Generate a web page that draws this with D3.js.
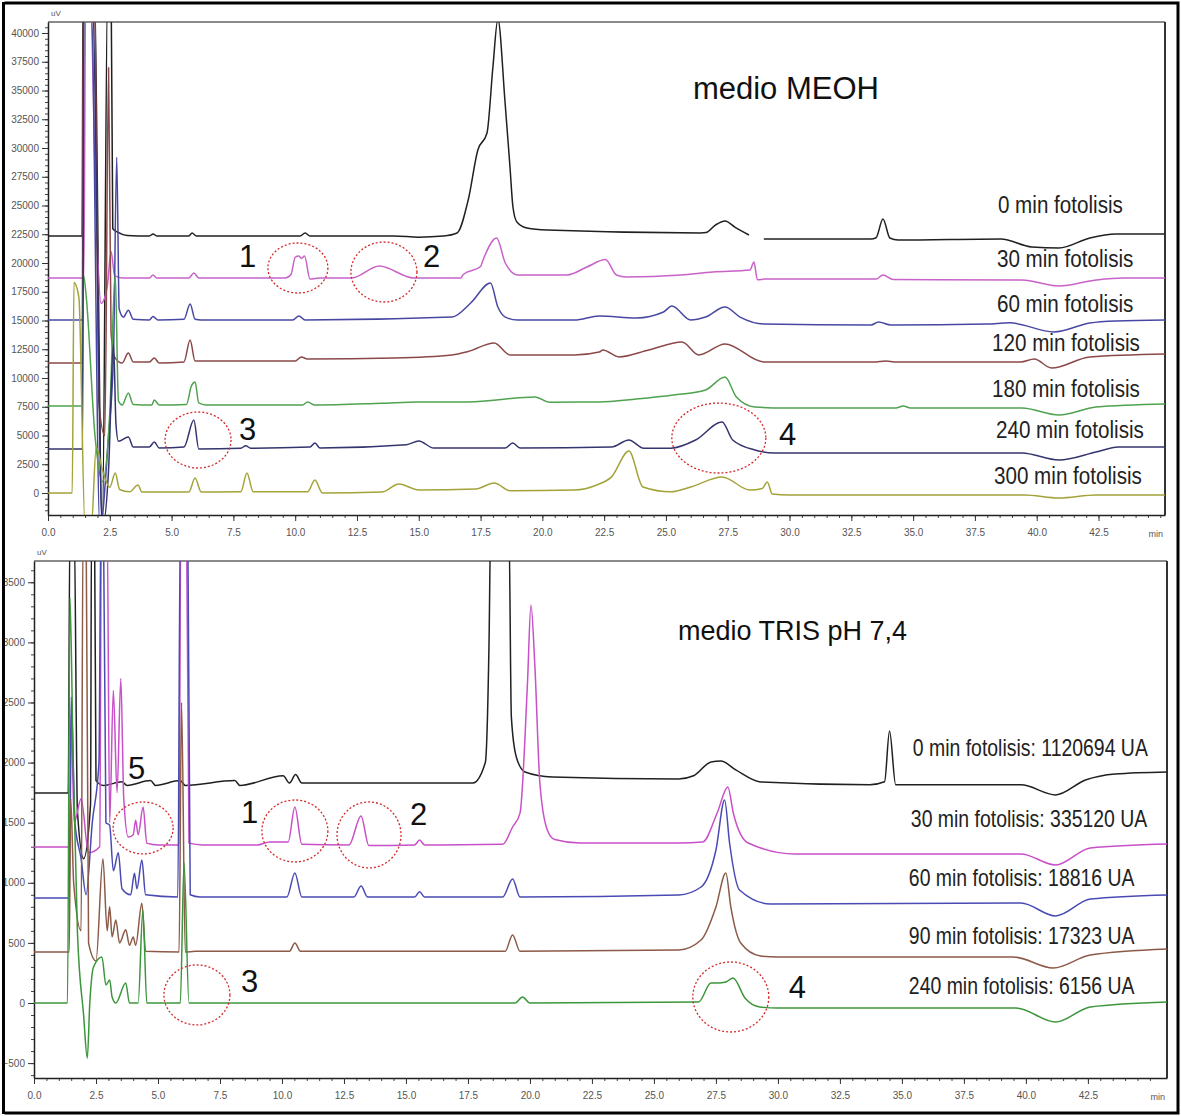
<!DOCTYPE html>
<html>
<head>
<meta charset="utf-8">
<script src="https://cdn.jsdelivr.net/npm/d3@7"></script>
<style>
  body { margin: 0; background: #fff; }
  svg text { font-family: "Liberation Sans", Arial, sans-serif; }
</style>
</head>
<body>
<svg id="chart" width="1181" height="1116"></svg>
<script>
// Chromatograms of the photolysis runs, MEOH medium (top) and TRIS pH 7,4 (bottom).
// Every trace is a list of [time (min), signal (uV)].
// null marks a break in the recorded line.

var timeTicks = d3.range(0, 42.51, 2.5);
var timeMinor = d3.range(0, 45.01, 0.5);

// ---------- medio MEOH ----------
var meohTicks = d3.range(0, 40001, 2500);
var meohMinor = d3.range(-1500, 40501, 500);
var meohLabels = ["0 min fotolisis", "30 min fotolisis", "60 min fotolisis", "120 min fotolisis",
                  "180 min fotolisis", "240 min fotolisis", "300 min fotolisis"];

var meoh0 = [[0,22350],[1.38,22350],[1.42,45000],[1.85,45000],[2.2,-3000],[2.42,45000],[2.55,45000],
  [2.62,23000],[2.8,22700],[3.2,22400],[4.1,22350],[4.25,22520],[4.4,22350],[5.7,22350],[5.83,22600],
  [6.0,22350],[10.2,22350],[10.4,22600],[10.6,22350],[14.0,22350],[15.0,22250],[16.0,22350],[16.55,22610],
  [17.0,25480],[17.39,29830],[17.76,31300],[18.0,37045],[18.2,41200],[18.49,34000],[18.69,28350],
  [18.81,24870],[18.97,23570],[19.38,23045],[20.19,22870],[26.4,22610],[26.62,22650],[27.0,23300],
  [27.39,23650],[27.8,23100],[28.36,22436],[28.5,null],[28.96,22090],[33.29,22090],[33.5,22200],
  [33.78,23830],[34.06,22175],[34.39,22000],[38.55,22090],[39.8,21390],[40.9,21305],[42.15,22175],
  [43.2,22520],[45.2,22520]];
var meoh30 = [[0,18700],[1.45,18700],[1.52,42000],[1.72,42000],[1.95,24000],[2.15,16500],[2.4,18000],
  [2.55,21000],[2.7,18900],[3.0,18700],[4.1,18700],[4.25,18950],[4.4,18700],[5.7,18700],[5.9,19130],
  [6.1,18700],[9.6,18700],[9.83,19000],[10.0,20500],[10.15,20610],[10.25,20400],[10.38,20610],
  [10.6,18600],[11.0,18700],[12.3,18700],[13.4,19740],[14.8,18700],[16.7,18700],[16.8,19000],
  [17.5,19700],[17.6,20262],[18.15,22175],[18.5,20001],[19.0,18960],[21.0,18960],[21.8,19650],
  [22.55,20300],[23.0,18960],[23.4,18783],[25.6,18960],[26.9,19220],[28.4,19390],[28.56,20088],
  [28.7,18550],[29.0,18600],[33.5,18600],[33.78,18957],[34.2,18560],[39.4,18522],[40.9,18001],
  [42.4,18522],[43.5,18700],[45.2,18700]];
var meoh60 = [[0,15040],[1.4,15040],[1.45,42000],[1.75,42000],[2.1,-3000],[2.45,5000],[2.65,12000],
  [2.78,29200],[2.88,16000],[3.05,15300],[3.25,15900],[3.45,15100],[4.1,15050],[4.25,15350],[4.45,15040],
  [5.5,15100],[5.75,16435],[5.95,15100],[6.2,15040],[9.9,15040],[10.15,15390],[10.4,15040],[16.35,15300],
  [17.1,16520],[17.9,18260],[18.2,16175],[18.5,15300],[19.0,15040],[21.3,15040],[22.3,15400],
  [23.8,15220],[24.9,15740],[25.24,16260],[26.0,15040],[26.6,15300],[27.39,16175],[28.0,15300],
  [28.96,14700],[33.3,14609],[33.6,14870],[34.1,14609],[38.0,14700],[38.9,14800],[40.7,14000],
  [42.15,14783],[43.2,14957],[45.2,15040]];
var meoh120 = [[0,11300],[1.38,11300],[1.43,42000],[1.9,42000],[2.05,8000],[2.3,5000],[2.45,37000],
  [2.55,14000],[2.7,11800],[3.0,11300],[3.25,12170],[3.45,11400],[4.1,11400],[4.3,11740],[4.5,11300],
  [5.5,11400],[5.75,13300],[5.95,11480],[6.3,11480],[10.0,11480],[10.25,11830],[10.5,11650],[14.0,11740],
  [16.35,12000],[17.0,12300],[18.05,13040],[18.7,12000],[21.3,12000],[22.3,12260],[22.45,12435],
  [23.1,11830],[24.3,12435],[25.65,13130],[26.33,12000],[27.39,12960],[28.96,11390],[33.4,11390],
  [33.9,11480],[34.3,11390],[39.35,11390],[39.9,11650],[40.6,10870],[42.15,11830],[45.2,12088]];
var meoh180 = [[0,7565],[1.38,7565],[1.43,19000],[1.55,17000],[1.9,5000],[2.2,1000],[2.5,7000],
  [2.72,19000],[2.85,8000],[3.0,7650],[3.25,8700],[3.45,7700],[4.2,7650],[4.3,8090],[4.5,7650],[5.6,7700],
  [5.8,9300],[5.95,9650],[6.1,7830],[6.4,7650],[10.3,7650],[10.5,7910],[10.8,7650],[13.5,7800],
  [15.0,7910],[17.0,7914],[19.7,8350],[20.3,7900],[22.3,7914],[23.8,8174],[25.3,8522],[26.6,8957],
  [27.39,10087],[27.85,8348],[28.6,7479],[29.8,7392],[34.3,7392],[34.6,7560],[34.9,7392],[39.4,7392],
  [40.9,6783],[42.4,7479],[45.2,7740]];
var meoh240 = [[0,3830],[1.4,3830],[1.45,42000],[1.8,42000],[2.2,-3000],[2.45,2000],[2.65,13000],
  [2.75,6000],[2.85,4500],[3.25,4870],[3.45,4000],[4.1,4000],[4.3,4435],[4.5,3913],[5.5,4000],[5.9,6348],
  [6.1,3830],[7.8,3900],[8.0,4100],[8.2,3900],[10.6,4000],[10.8,4350],[11.0,3913],[14.5,4200],[15.0,4522],
  [15.6,3913],[18.5,3913],[18.8,4348],[19.1,3913],[22.8,4000],[23.5,4609],[24.1,3900],[25.2,3900],
  [26.2,4609],[27.27,6174],[27.7,4609],[28.6,3739],[29.4,3478],[39.4,3478],[40.9,2870],[42.4,3565],
  [43.3,4000],[45.2,4000]];
var meoh300 = [[0,0],[0.98,0],[1.05,18300],[1.25,17000],[1.5,-3000],[1.75,-3000],[1.95,4000],[2.2,2000],
  [2.5,500],[2.72,1740],[2.9,300],[3.3,100],[3.64,700],[3.8,80],[5.7,80],[5.95,1300],[6.2,80],[7.8,100],
  [8.05,1740],[8.3,100],[10.5,100],[10.8,1130],[11.1,0],[13.5,80],[14.2,780],[15.0,260],[17.3,350],
  [18.05,870],[18.7,200],[21.3,260],[22.2,700],[22.8,1400],[23.5,3650],[24.07,520],[25.2,100],[26.0,520],
  [27.27,1390],[28.4,261],[28.9,400],[29.1,960],[29.3,-87],[30.0,-174],[39.5,-174],[40.9,-435],
  [42.4,-174],[45.2,-174]];

// ---------- medio TRIS pH 7,4 ----------
var trisTicks = d3.range(-500, 3501, 500);
var trisMinor = d3.range(-600, 3601, 100);
var trisLabels = ["0 min fotolisis: 1120694 UA", "30 min fotolisis: 335120 UA", "60 min fotolisis: 18816 UA",
                  "90 min fotolisis: 17323 UA", "240 min fotolisis: 6156 UA"];

var tris0 = [[0,1747],[1.38,1747],[1.45,4000],[1.62,4000],[1.75,1600],[2.0,1200],[2.28,1650],[2.32,4000],
  [2.44,4000],[2.5,1850],[2.8,1810],[3.55,1840],[3.75,1810],[4.7,1850],[4.9,1810],[5.9,1850],[6.1,1810],
  [8.1,1850],[8.3,1810],[10.05,1890],[10.3,1830],[10.55,1900],[10.8,1830],[17.7,1830],[18.2,2000],
  [18.35,3000],[18.42,4000],[19.15,4000],[19.25,2380],[19.45,2047],[19.8,1922],[20.9,1880],[26.0,1864],
  [26.6,1890],[27.3,2005],[27.7,2013],[28.3,1939],[29.3,1839],[33.7,1815],[34.3,1840],[34.5,2263],
  [34.75,1815],[39.8,1815],[41.2,1731],[42.4,1855],[43.6,1905],[45.7,1922]];
var tris30 = [[0,1298],[1.45,1298],[1.5,2400],[1.62,1500],[1.9,1700],[2.2,1250],[2.65,1300],[2.72,4000],
  [2.95,4000],[3.05,1500],[3.2,2600],[3.35,1750],[3.5,2700],[3.62,1700],[3.8,1380],[4.0,1400],[4.1,1520],
  [4.2,1400],[4.4,1630],[4.55,1330],[5.0,1315],[5.85,1315],[5.92,4000],[6.15,4000],[6.25,1330],
  [6.8,1315],[9.0,1315],[9.5,1340],[10.25,1340],[10.52,1630],[10.8,1320],[12.7,1315],[13.19,1556],
  [13.5,1310],[15.35,1315],[15.55,1356],[15.75,1315],[18.9,1320],[19.3,1464],[19.6,1580],[19.9,2662],
  [20.04,3311],[20.2,2796],[20.4,1830],[20.7,1440],[21.0,1360],[22.0,1331],[26.0,1331],[26.97,1340],
  [27.55,1581],[27.98,1797],[28.2,1581],[28.8,1331],[30.7,1240],[39.8,1240],[41.2,1148],[42.6,1290],
  [45.7,1323]];
var tris60 = [[0,874],[1.42,874],[1.5,2546],[1.65,1500],[1.9,1200],[2.1,900],[2.35,1500],[2.62,2000],
  [2.7,4000],[2.8,4000],[2.9,1500],[3.05,1480],[3.2,1100],[3.4,1250],[3.55,950],[3.9,900],[4.05,1080],
  [4.15,950],[4.35,1190],[4.5,900],[5.8,882],[5.9,4000],[6.2,4000],[6.3,900],[6.7,882],[10.2,882],
  [10.52,1082],[10.8,882],[12.9,882],[13.19,973],[13.45,882],[15.35,882],[15.55,925],[15.75,882],
  [18.9,882],[19.3,1032],[19.6,882],[26.0,899],[26.9,965],[27.5,1273],[27.85,1689],[28.05,1331],
  [28.45,940],[29.7,824],[39.8,832],[41.2,724],[42.6,865],[45.7,899]];
var tris90 = [[0,424],[1.42,424],[1.48,1700],[1.6,1000],[1.9,600],[1.98,4000],[2.1,4000],[2.2,500],
  [2.5,350],[2.78,1200],[2.95,600],[3.05,800],[3.15,550],[3.3,690],[3.45,500],[3.7,610],[3.85,480],
  [4.0,550],[4.1,480],[4.35,830],[4.5,430],[5.85,424],[5.95,2500],[6.1,424],[6.5,430],[10.3,430],
  [10.52,500],[10.75,430],[19.0,430],[19.3,566],[19.6,430],[26.0,441],[26.9,524],[27.5,799],[27.9,1082],
  [28.1,799],[28.5,499],[29.3,391],[30.0,383],[39.5,383],[41.1,291],[42.6,399],[45.7,449]];
var tris240 = [[0,0],[1.35,0],[1.45,3370],[1.58,2000],[1.75,600],[2.0,-100],[2.15,-458],[2.25,0],
  [2.4,300],[2.74,383],[2.9,150],[3.05,191],[3.15,50],[3.3,0],[3.7,166],[3.85,0],[4.2,0],[4.39,774],
  [4.55,0],[5.9,0],[6.05,1165],[6.25,0],[19.4,0],[19.7,50],[20.0,0],[26.8,8],[27.3,166],[27.58,166],
  [27.9,175],[28.19,208],[28.67,42],[29.27,-33],[30.0,-42],[39.6,-42],[41.2,-158],[42.6,-33],[45.7,8]];

var svg = d3.select("#chart");

// outer frame of the composite picture
svg.append("rect").attr("x", 3).attr("y", 3).attr("width", 1175).attr("height", 1110)
  .attr("fill", "none").attr("stroke", "#000").attr("stroke-width", 3);

function drawPanel(p) {
  var g = svg.append("g");
  var x = d3.scaleLinear().domain(p.xDomain).range([p.left, p.right]);
  var y = d3.scaleLinear().domain(p.yDomain).range([p.bottom, p.top]);

  // clip the traces to the plot area
  g.append("clipPath").attr("id", p.id + "-plot")
    .append("rect").attr("x", p.left).attr("y", p.top)
    .attr("width", p.right - p.left).attr("height", p.bottom - p.top);

  // frame: gray top line, dark right line
  g.append("line").attr("x1", p.left).attr("x2", p.right).attr("y1", p.top).attr("y2", p.top)
    .attr("stroke", "#8a8a8a").attr("stroke-width", 2);
  g.append("line").attr("x1", p.right).attr("x2", p.right).attr("y1", p.top).attr("y2", p.bottom)
    .attr("stroke", "#333").attr("stroke-width", 2);

  // minor ticks
  g.append("g").attr("transform", "translate(0," + p.bottom + ")")
    .call(d3.axisBottom(x).tickValues(timeMinor.filter(function (d) { return x(d) <= p.right; }))
      .tickSize(3).tickSizeOuter(0).tickFormat(""))
    .call(function (a) { a.select(".domain").remove(); a.selectAll("line").attr("stroke", "#444"); });
  g.append("g").attr("transform", "translate(" + p.left + ",0)")
    .call(d3.axisLeft(y).tickValues(p.yMinor).tickSize(3).tickSizeOuter(0).tickFormat(""))
    .call(function (a) { a.select(".domain").remove(); a.selectAll("line").attr("stroke", "#444"); });

  // major ticks + labels
  var xa = g.append("g").attr("transform", "translate(0," + p.bottom + ")")
    .call(d3.axisBottom(x).tickValues(timeTicks).tickSize(6).tickSizeOuter(0).tickPadding(8)
      .tickFormat(d3.format(".1f")));
  xa.select(".domain").attr("stroke", "#222").attr("stroke-width", 1.5);
  xa.selectAll("line").attr("stroke", "#333");
  xa.selectAll("text").attr("font-size", 10).attr("fill", "#555");
  xa.append("text").attr("x", p.right - 2).attr("y", 22).attr("text-anchor", "end")
    .attr("font-size", 9).attr("fill", "#555").text("min");

  var ya = g.append("g").attr("transform", "translate(" + p.left + ",0)")
    .call(d3.axisLeft(y).tickValues(p.yTicks).tickSize(6).tickSizeOuter(0).tickPadding(3)
      .tickFormat(d3.format("d")));
  ya.select(".domain").attr("stroke", "#222").attr("stroke-width", 1.5);
  ya.selectAll("line").attr("stroke", "#333");
  ya.selectAll("text").attr("font-size", 10).attr("fill", "#555");
  g.append("text").attr("x", p.left + 3).attr("y", p.top - 6).attr("font-size", 8)
    .attr("fill", "#555").text("uV");

  // traces
  var line = d3.line()
    .defined(function (d) { return d[1] !== null; })
    .curve(d3.curveMonotoneX)
    .x(function (d) { return x(d[0]); })
    .y(function (d) { return y(d[1]); });
  g.append("g").attr("clip-path", "url(#" + p.id + "-plot)")
    .selectAll("path").data(p.traces).join("path")
    .attr("d", line).attr("fill", "none")
    .attr("stroke", function (d, i) { return p.colors[i]; })
    .attr("stroke-width", 1.5).attr("stroke-linejoin", "round");

  // trace names on the right
  g.selectAll("text.lbl").data(p.labels).join("text").attr("class", "lbl")
    .attr("transform", function (d, i) {
      return "translate(" + x(p.labelAt[i][0]) + "," + y(p.labelAt[i][1]) + ") scale(" + p.labelScale + ",1)";
    })
    .attr("font-size", p.labelSize).attr("fill", "#222").text(function (d) { return d; });

  // title
  g.append("text").attr("x", x(p.titleAt[0])).attr("y", y(p.titleAt[1]))
    .attr("font-size", p.titleSize).attr("fill", "#111").text(p.title);

  // red dotted rings around the peaks of interest
  g.selectAll("ellipse").data(p.rings).join("ellipse")
    .attr("cx", function (d) { return x(d[0]); }).attr("cy", function (d) { return y(d[1]); })
    .attr("rx", function (d) { return d[2]; }).attr("ry", function (d) { return d[3]; })
    .attr("fill", "none").attr("stroke", "#d42a2a").attr("stroke-width", 1.3)
    .attr("stroke-dasharray", "2,2");

  g.selectAll("text.num").data(p.marks).join("text").attr("class", "num")
    .attr("x", function (d) { return x(d[1]); }).attr("y", function (d) { return y(d[2]); })
    .attr("font-size", 31).attr("fill", "#111").text(function (d) { return d[0]; });
}

drawPanel({
  id: "meoh", left: 48, right: 1165, top: 22, bottom: 515,
  xDomain: [0, 45.19], yDomain: [-1913, 40957],
  yTicks: meohTicks, yMinor: meohMinor,
  traces: [meoh0, meoh30, meoh60, meoh120, meoh180, meoh240, meoh300],
  colors: ["#202020", "#c862c8", "#4848a4", "#8c4848", "#4fa24f", "#34346e", "#a3a33a"],
  labels: meohLabels,
  labelAt: [[38.43,24349],[38.39,19653],[38.39,15740],[38.19,12348],[38.19,8348],[38.35,4783],[38.27,783]],
  labelSize: 24, labelScale: 0.86,
  title: "medio MEOH", titleAt: [26.09, 34262], titleSize: 31,
  rings: [[10.11,19566,30,25],[13.59,19218,33,30],[6.07,4609,33,28],[27.14,4783,47,35]],
  marks: [["1",7.73,19653],["2",15.17,19653],["3",7.73,4609],["4",29.57,4174]]
});

drawPanel({
  id: "tris", left: 34, right: 1167, top: 561, bottom: 1078,
  xDomain: [0, 45.69], yDomain: [-624, 3677],
  yTicks: trisTicks, yMinor: trisMinor,
  traces: [tris0, tris30, tris60, tris90, tris240],
  colors: ["#202020", "#c850c8", "#4a4ab4", "#8c5a48", "#3c963c"],
  labels: trisLabels,
  labelAt: [[35.44,2055],[35.36,1464],[35.28,973],[35.28,491],[35.28,75]],
  labelSize: 23, labelScale: 0.845,
  title: "medio TRIS pH 7,4", titleAt: [25.97, 3020], titleSize: 27,
  rings: [[4.40,1456,30,26],[10.52,1431,33,31],[13.51,1398,32,33],[6.57,67,33,30],[28.10,50,38,35]],
  marks: [["5",3.79,1864],["1",8.35,1498],["2",15.16,1481],["3",8.35,92],["4",30.44,42]]
});

// frame covers the cut tick labels at the far left
svg.append("rect").attr("x", 0).attr("y", 0).attr("width", 4.5).attr("height", 1116).attr("fill", "#fff");
svg.append("line").attr("x1", 3.5).attr("x2", 3.5).attr("y1", 2).attr("y2", 1114)
  .attr("stroke", "#000").attr("stroke-width", 3);
</script>
</body>
</html>
